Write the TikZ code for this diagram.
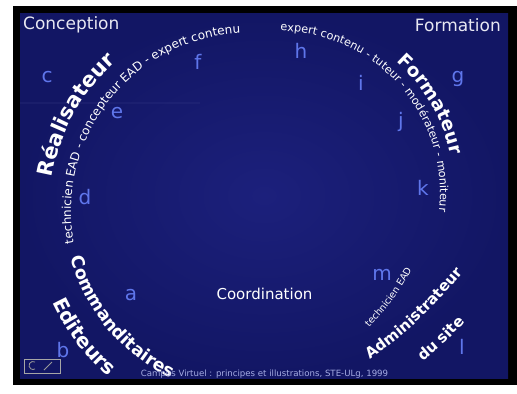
\documentclass[tikz,border=0pt]{standalone}
\usepackage{fontspec}
\setmainfont{DejaVu Sans}
\usepackage{tikz}
\usetikzlibrary{calc}
\usetikzlibrary{decorations.text}
\definecolor{slidebg}{RGB}{28,32,124}
\definecolor{slidedark}{RGB}{18,22,100}
\definecolor{letterblue}{RGB}{95,118,235}
\definecolor{titlegray}{RGB}{232,232,242}
\definecolor{footblue}{RGB}{165,172,228}
\newcommand{\smallarc}{\fontsize{12}{12}\selectfont}
\newcommand{\smallarcr}{\fontsize{11.2}{11.2}\selectfont}
\newcommand{\bigarc}[1]{\fontsize{#1}{#1}\selectfont\bfseries}

\begin{document}
\begin{tikzpicture}[x=1pt, y=1pt,
    letter/.style={color=letterblue, inner sep=0pt, font=\fontsize{20}{20}\selectfont},
    title/.style={color=titlegray, inner sep=0pt, font=\fontsize{17}{17}\selectfont},
    arctext/.style={decorate, decoration={text along path, text align=center, text color=white, text={#1}}}]
        % coordinates
        \coordinate (leftc) at (249,-211);
        \coordinate (rightc) at (278,-193);
        \coordinate (tech1) at (363,-334);
        \coordinate (tech2) at (416,-262);
        \coordinate (admin1) at (362,-365);
        \coordinate (admin2) at (469,-265);
        \coordinate (site1) at (410,-372);
        \coordinate (site2) at (476,-310);

        % frame
        \fill[white] (0,0) rectangle (517,-390);
        \fill[black] (13,-6) rectangle (517,-385);
        \shade[inner color=slidebg, outer color=slidedark] (20,-13) rectangle (508,-378);
        \draw[line width=2pt, slidebg!80!white, opacity=0.15] (20,-103) -- (200,-103);

        % left circle
        \path[arctext={|\smallarc|technicien EAD - concepteur EAD - expert contenu}]
            ($(leftc)+(201.6:178)$) arc[start angle=201.6, end angle=81.6, radius=178];
        \path[arctext={|\bigarc{21}|Réalisateur}]
            ($(leftc)+(181:200)$) arc[start angle=181, end angle=121, radius=200];
        \path[arctext={|\bigarc{17.5}|Commanditaires}]
            ($(leftc)+(184.8:184)$) arc[start angle=184.8, end angle=254.8, radius=184];
        \path[arctext={|\bigarc{20}|Editeurs}]
            ($(leftc)+(197.3:217)$) arc[start angle=197.3, end angle=237.3, radius=217];

        % right circle
        \path[arctext={|\smallarcr|expert contenu - tuteur - modérateur - moniteur}]
            ($(rightc)+(99.3:162)$) arc[start angle=99.3, end angle=-16.7, radius=162];
        \path[arctext={|\bigarc{18.5}|Formateur}]
            ($(rightc)+(58.2:177)$) arc[start angle=58.2, end angle=2.2, radius=177];

        % bottom right
        \path[arctext={|\fontsize{9.5}{9.5}\selectfont|technicien EAD}] (tech1) to[bend right=8] (tech2);
        \path[arctext={|\bigarc{15}|Administrateur}] (admin1) to[bend right=8] (admin2);
        \path[arctext={|\bigarc{15}|du site}] (site1) to[bend right=5] (site2);

        % button
        \draw[gray!70] (24,-359) rectangle (60,-373);
        \draw[gray!80, line width=0.8pt] (35,-362) arc[start angle=60, end angle=300, radius=4];
        \draw[gray!80, line width=0.8pt] (44,-370) -- (52,-362);

        % Text
        \node[title, anchor=base west] (conception) at (23,-29) {Conception};
        \node[title, anchor=base east] (formation) at (501,-31) {Formation};
        \node[color=white, inner sep=0pt, anchor=base, font=\fontsize{15}{15}\selectfont] (coordination) at (264.5,-299) {Coordination};
        \node[color=footblue, inner sep=0pt, anchor=base, font=\fontsize{8.6}{8.6}\selectfont] (credits) at (264.5,-376) {Campus Virtuel : principes et illustrations, STE-ULg, 1999};

        \node[letter] (a) at (131,-295) {a};
        \node[letter] (b) at (63,-350) {b};
        \node[letter] (c) at (47,-77) {c};
        \node[letter] (d) at (85,-197) {d};
        \node[letter] (e) at (117,-113) {e};
        \node[letter] (f) at (198,-62) {f};
        \node[letter] (g) at (458,-79) {g};
        \node[letter] (h) at (301,-51) {h};
        \node[letter] (i) at (361,-83) {i};
        \node[letter] (j) at (401,-122) {j};
        \node[letter] (k) at (423,-188) {k};
        \node[letter] (l) at (462,-347) {l};
        \node[letter] (m) at (382,-275) {m};
    \end{tikzpicture}
\end{document}
